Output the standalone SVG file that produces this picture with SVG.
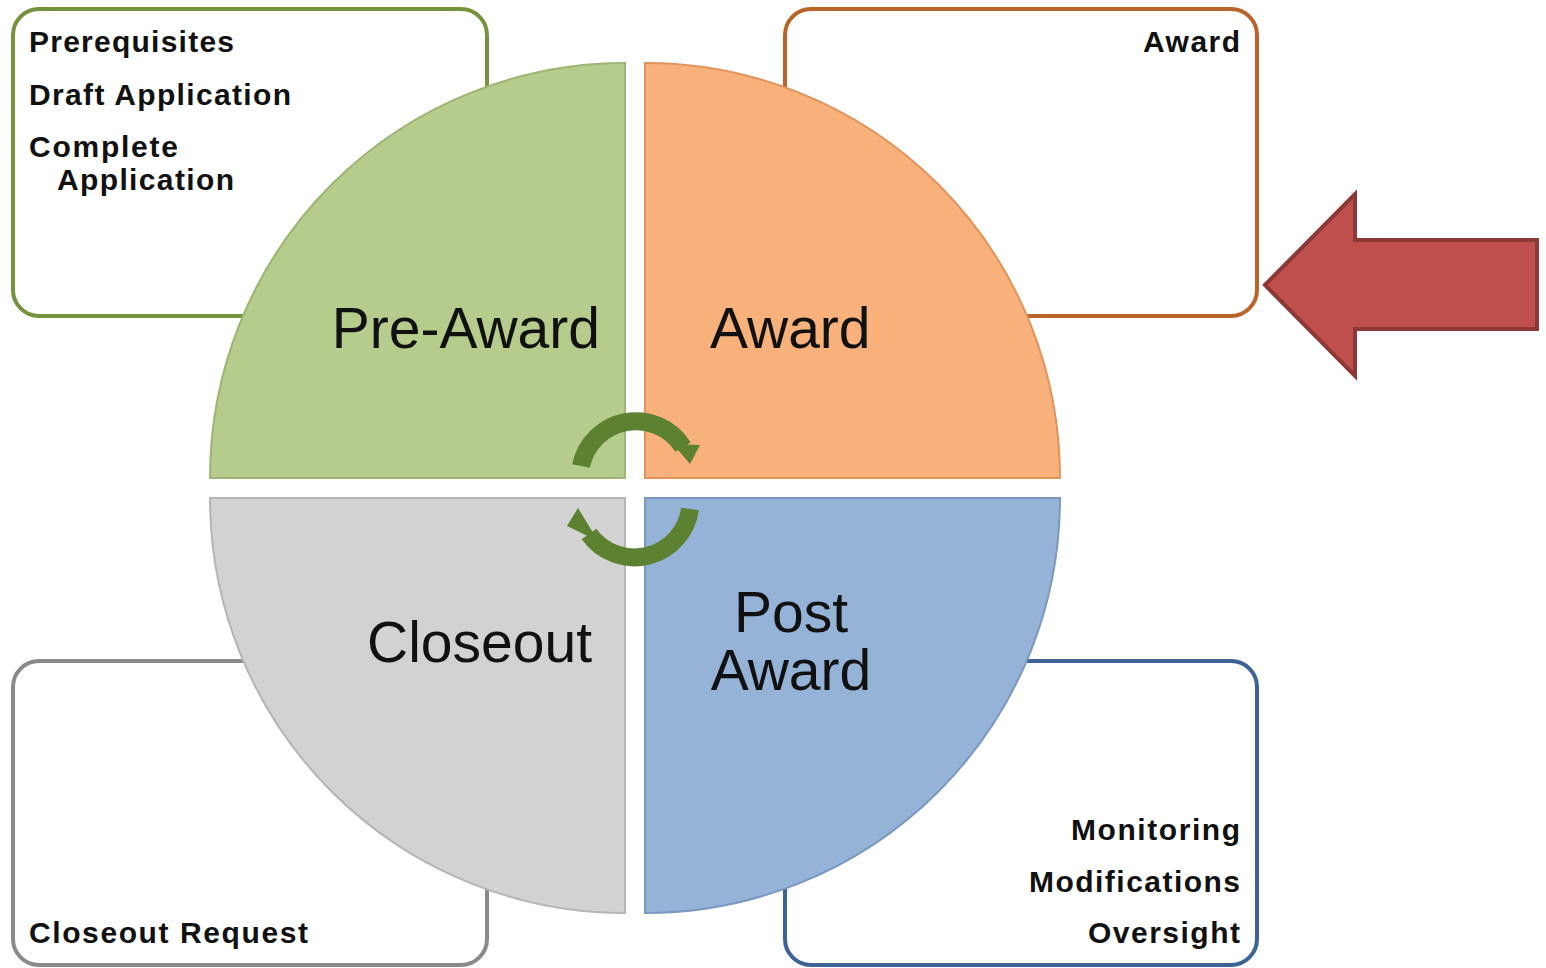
<svg xmlns="http://www.w3.org/2000/svg" width="1546" height="968" viewBox="0 0 1546 968">
<style>
.box{fill:#fff;stroke-width:4}
.small{font-family:"Liberation Sans",Arial,sans-serif;font-weight:bold;font-size:30px;fill:#111}
.big{font-family:"Liberation Sans",Arial,sans-serif;font-size:57px;fill:#111}
.cyc{fill:none;stroke:#5c8130;stroke-width:18}
.head{fill:#5c8130}
</style>
<rect width="1546" height="968" fill="#fff"/>
<g id="box-preaward"><rect class="box" x="13" y="9" width="474" height="307" rx="26" stroke="#76923c"/>
<text class="small" x="29" y="52" textLength="205" lengthAdjust="spacing">Prerequisites</text>
<text class="small" x="29" y="105" textLength="262" lengthAdjust="spacing">Draft Application</text>
<text class="small" x="29" y="157" textLength="149" lengthAdjust="spacing">Complete</text>
<text class="small" x="57" y="190" textLength="177" lengthAdjust="spacing">Application</text></g>
<g id="box-award"><rect class="box" x="785" y="9" width="472" height="307" rx="26" stroke="#b9652a"/>
<text class="small" x="1240" y="52" text-anchor="end" textLength="97" lengthAdjust="spacing">Award</text></g>
<g id="box-closeout"><rect class="box" x="13" y="661" width="474" height="304" rx="26" stroke="#8a8a8a"/>
<text class="small" x="29" y="943" textLength="279" lengthAdjust="spacing">Closeout Request</text></g>
<g id="box-postaward"><rect class="box" x="785" y="661" width="472" height="304" rx="26" stroke="#3d6295"/>
<text class="small" x="1240" y="840" text-anchor="end" textLength="169" lengthAdjust="spacing">Monitoring</text>
<text class="small" x="1240" y="892" text-anchor="end" textLength="211" lengthAdjust="spacing">Modifications</text>
<text class="small" x="1240" y="943" text-anchor="end" textLength="152" lengthAdjust="spacing">Oversight</text></g>
<g id="q-preaward"><path d="M625 478 L210 478 A415 415 0 0 1 625 63 Z" fill="#b5cc8c" stroke="#9db474" stroke-width="2"/>
<text class="big" x="600" y="348" text-anchor="end">Pre-Award</text></g>
<g id="q-award"><path d="M645 478 L645 63 A415 415 0 0 1 1060 478 Z" fill="#f8b17b" stroke="#e2935a" stroke-width="2"/>
<text class="big" x="710" y="348">Award</text></g>
<g id="q-closeout"><path d="M625 498 L625 913 A415 415 0 0 1 210 498 Z" fill="#d2d2d2" stroke="#b5b5b5" stroke-width="2"/>
<text class="big" x="592" y="662" text-anchor="end">Closeout</text></g>
<g id="q-postaward"><path d="M645 498 L1060 498 A415 415 0 0 1 645 913 Z" fill="#95b3d7" stroke="#7a98c0" stroke-width="2"/>
<text class="big" x="791" y="632" text-anchor="middle">Post</text>
<text class="big" x="791" y="690" text-anchor="middle">Award</text></g>
<g id="connectors">
<path class="cyc" d="M581 466 A56 56 0 0 1 683 447"/>
<polygon class="head" points="673,444 700,445 690,464"/>
<path class="cyc" d="M690 509 A56 56 0 0 1 589 534"/>
<polygon class="head" points="578,508 598,541 567,526"/>
</g>
<g id="red-arrow"><polygon points="1265,285 1355,194 1355,240 1537,240 1537,329 1355,329 1355,376" fill="#c0504d" stroke="#8c3836" stroke-width="4"/></g>
</svg>
